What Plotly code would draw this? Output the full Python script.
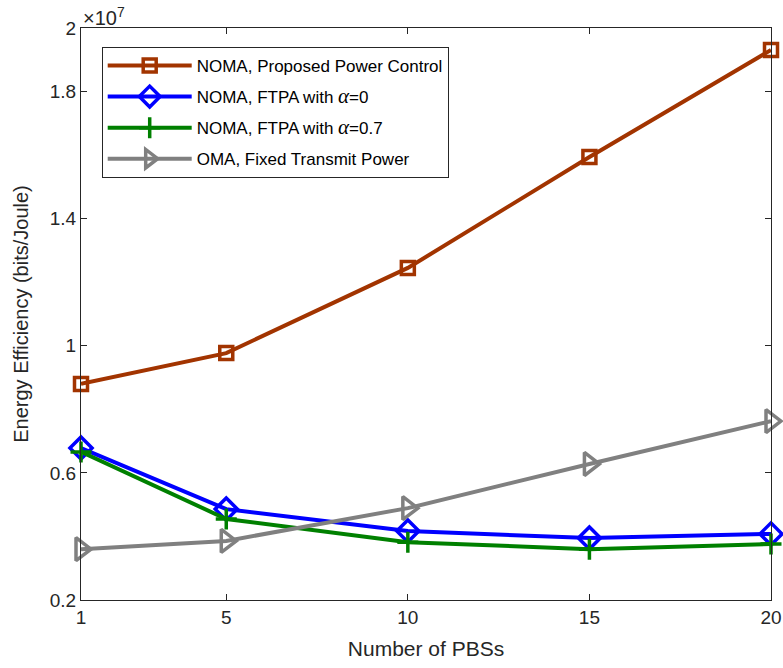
import plotly.graph_objects as go

x_pbs = [1, 5, 10, 15, 20]
ee_proposed = [0.880, 0.977, 1.245, 1.594, 1.931]
ee_ftpa0 = [0.678, 0.486, 0.417, 0.395, 0.408]
ee_ftpa07 = [0.666, 0.455, 0.382, 0.360, 0.376]
ee_oma = [0.360, 0.386, 0.489, 0.628, 0.763]

alpha = '<span style="font-family:Liberation Serif;font-style:italic;font-size:21px">α</span>'
names = ["NOMA, Proposed Power Control",
         "NOMA, FTPA with " + alpha + "=0",
         "NOMA, FTPA with " + alpha + "=0.7",
         "OMA, Fixed Transmit Power"]
colors = ["rgb(162,52,0)", "rgb(0,0,255)", "rgb(0,128,0)", "rgb(128,128,128)"]
symbols = ["square-open", "diamond-open", "cross-thin-open", "triangle-right-open"]
sizes = [13, 17, 15, 20]
series = [ee_proposed, ee_ftpa0, ee_ftpa07, ee_oma]

fig = go.Figure()
for i, (nm, c, s, sz, ys) in enumerate(zip(names, colors, symbols, sizes, series)):
    fig.add_trace(go.Scatter(
        x=x_pbs, y=ys, mode="lines+markers", name=nm, legendgroup=f"g{i}",
        line=dict(color=c, width=4),
        marker=dict(symbol=s, size=sz, color=c, line=dict(color=c, width=3.5)),
        cliponaxis=False,
    ))

axis_common = dict(showline=True, linecolor="#262626", linewidth=1, mirror="ticks",
                   ticks="inside", ticklen=6, tickcolor="#262626", showgrid=False,
                   zeroline=False, automargin=False,
                   tickfont=dict(family="Liberation Sans, Arial", size=19, color="#262626"))

fig.update_layout(
    width=783, height=668,
    margin=dict(l=81, r=12, t=28, b=68),
    paper_bgcolor="white", plot_bgcolor="white",
    font=dict(family="Liberation Sans, Arial", color="#262626"),
    xaxis=dict(range=[1, 20], tickvals=[1, 5, 10, 15, 20],
               title=dict(text="Number of PBSs", font=dict(size=21), standoff=14), **axis_common),
    yaxis=dict(range=[0.2, 2.0], tickvals=[0.2, 0.6, 1.0, 1.4, 1.8, 2.0],
               ticktext=["0.2", "0.6", "1", "1.4", "1.8", "2"],
               title=dict(text="Energy Efficiency (bits/Joule)", font=dict(size=20), standoff=15),
               **axis_common),
    legend=dict(x=0.03, y=0.967, xanchor="left", yanchor="top",
                bgcolor="white", bordercolor="#262626", borderwidth=1,
                font=dict(size=17, color="black"), itemwidth=84, tracegroupgap=6),
    showlegend=True,
    annotations=[dict(text="×10<sup>7</sup>", xref="paper", yref="paper", x=0, y=1,
                      xanchor="left", yanchor="bottom", showarrow=False,
                      font=dict(size=20, color="#262626"), yshift=-3)],
)

fig.write_html("out.html")
